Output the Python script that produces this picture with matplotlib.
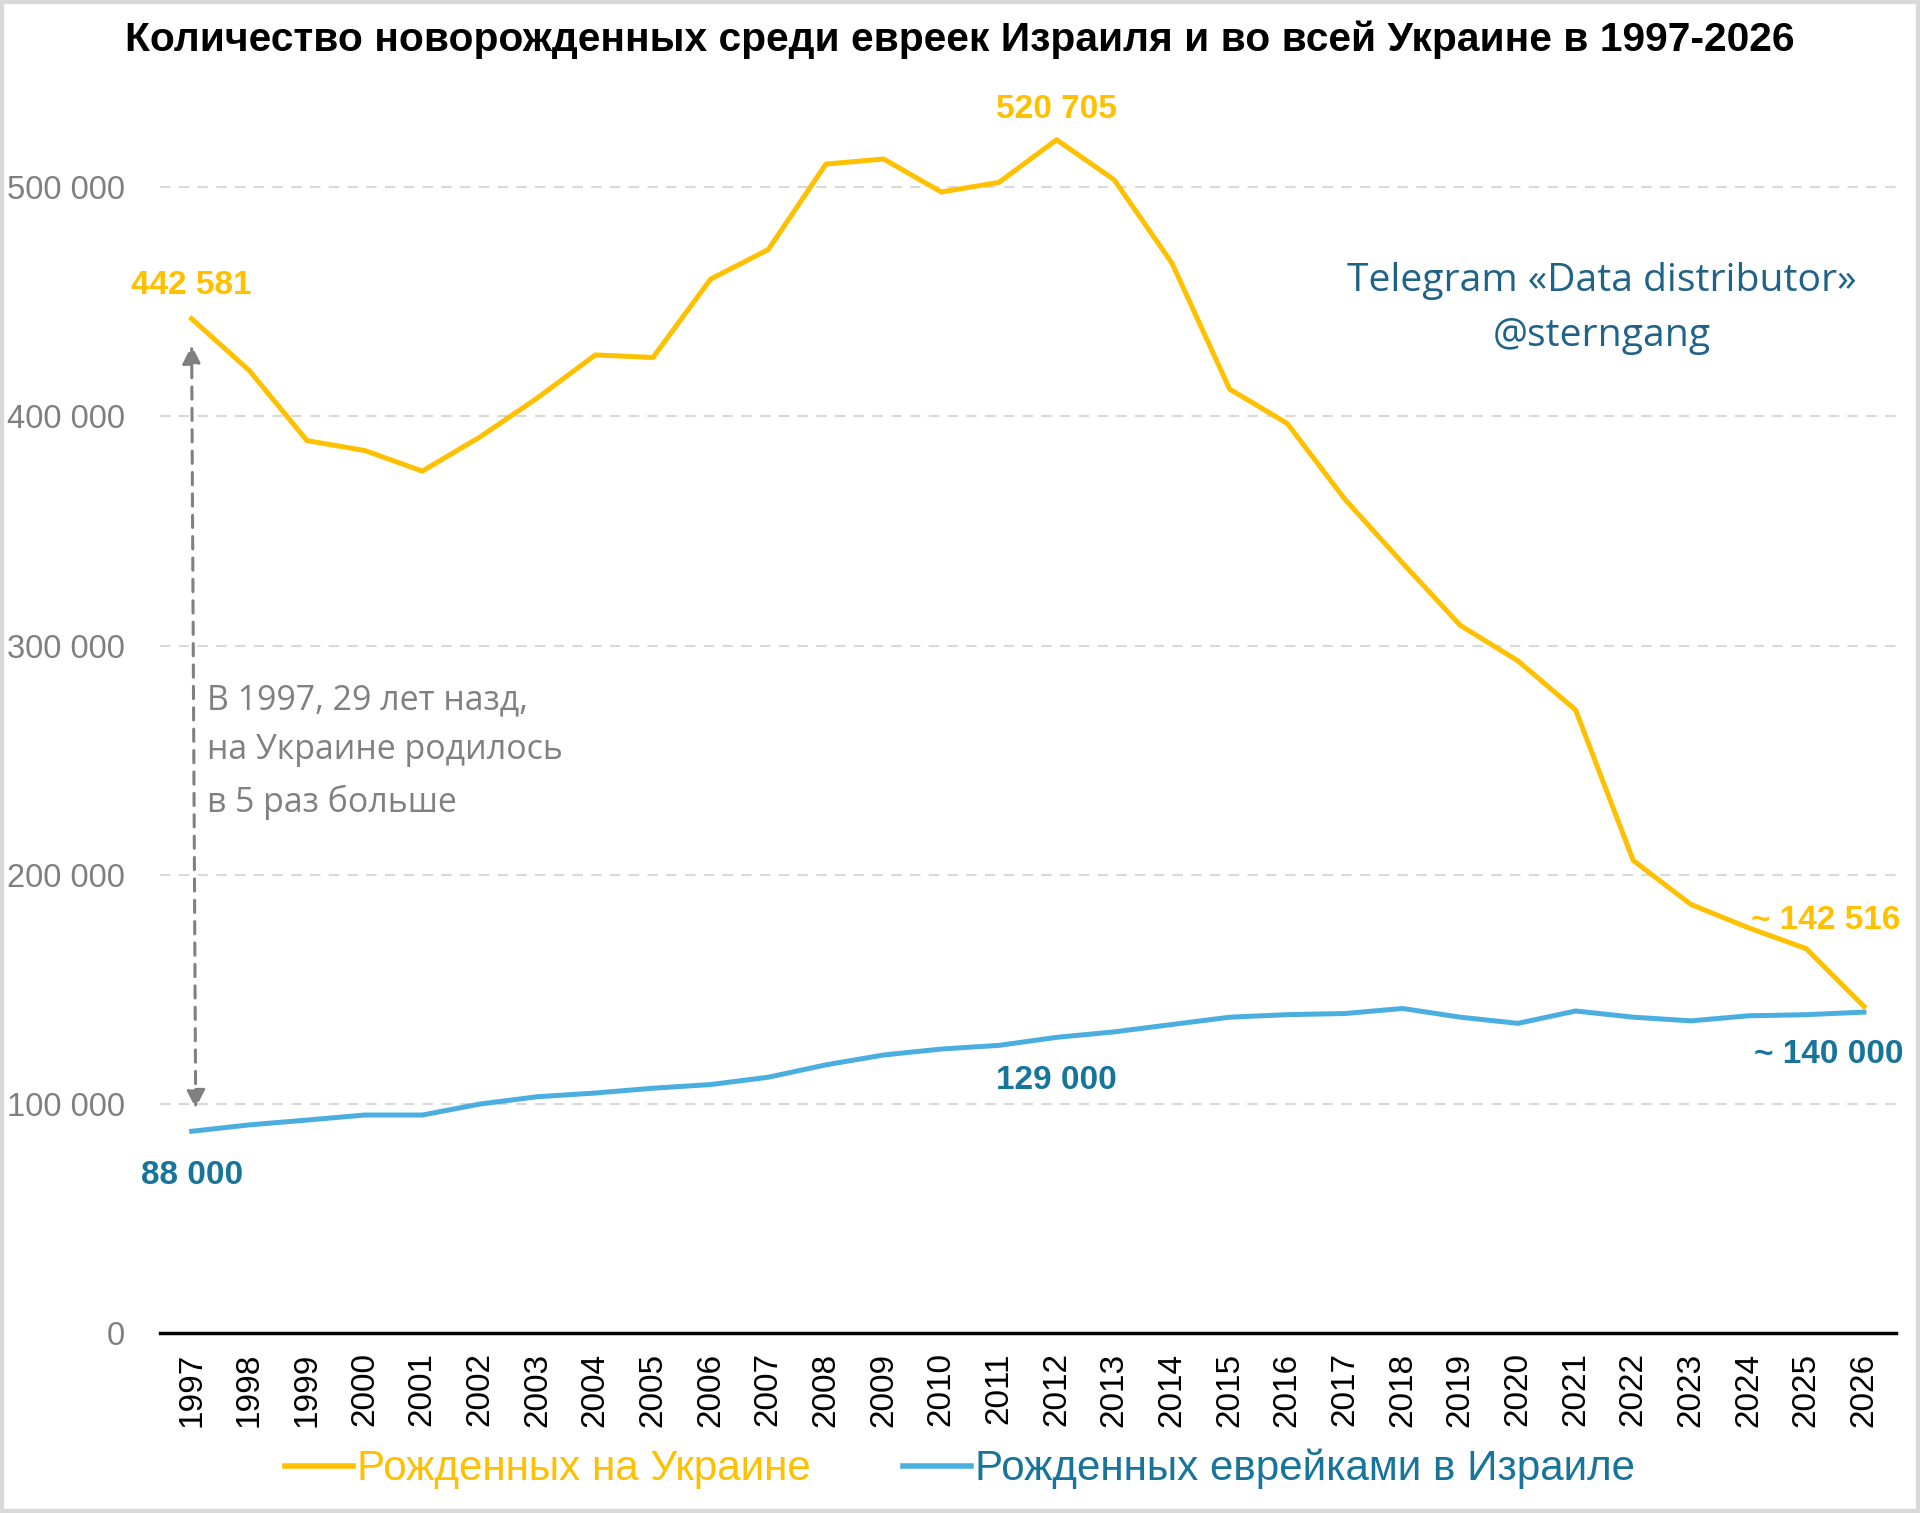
import matplotlib.pyplot as plt
from matplotlib.patches import Rectangle
from matplotlib.lines import Line2D

plt.rcParams['font.family'] = ['Liberation Sans', 'DejaVu Sans']

years = list(range(1997, 2027))
ukraine = [442581, 420000, 389400, 385100, 376100, 391000, 408100, 426800, 425700, 459900,
           472800, 510100, 512300, 497900, 502100, 520705, 503200, 466900, 411900, 396900,
           363800, 336000, 308800, 293300, 271900, 206200, 187000, 176800, 167700, 142516]
israel = [88000, 90800, 92900, 95100, 95100, 99900, 103100, 104700, 106800, 108400,
          111600, 117000, 121300, 123900, 125500, 129000, 131400, 134600, 137800, 138900,
          139400, 141600, 137800, 135100, 140500, 137800, 136200, 138400, 138900, 140000]
yticks = [0, 100000, 200000, 300000, 400000, 500000]

title = 'Количество новорожденных среди евреек Израиля и во всей Украине в 1997-2026'
label_ua = 'Рожденных на Украине'
label_il = 'Рожденных еврейками в Израиле'
note = 'В 1997, 29 лет назд,\nна Украине родилось\nв 5 раз больше'
watermark = 'Telegram «Data distributor»\n@sterngang'

YELLOW = '#FFC000'
BLUE = '#4AAFDF'
DARK_BLUE = '#17749A'
GREY = '#808080'


def fmt(v):
    return f'{v:,}'.replace(',', ' ')


fig = plt.figure(figsize=(19.2, 15.13), dpi=100)
fig.patches.append(Rectangle((0, 0), 1, 1, transform=fig.transFigure, fill=False,
                             edgecolor='#D9D9D9', linewidth=6))
ax = fig.add_axes([0.0833, 0.119, 0.904, 0.833])

ax.plot(years, ukraine, color=YELLOW, linewidth=3.6, zorder=3)
ax.plot(years, israel, color=BLUE, linewidth=3.6, zorder=3)

ax.set_xlim(1996.45, 2026.55)
ax.set_ylim(0, 550000)
ax.set_xticks(years)
ax.set_xticklabels([str(y) for y in years], rotation=90, fontsize=24)
ax.set_yticks(yticks)
ax.set_yticklabels([fmt(v) for v in yticks], fontsize=23.5, color='#7F7F7F')
ax.tick_params(axis='both', length=0)
ax.tick_params(axis='y', pad=25)
ax.tick_params(axis='x', pad=14)
for s in ['top', 'right', 'left']:
    ax.spines[s].set_visible(False)
ax.spines['bottom'].set_linewidth(2.5)
ax.spines['bottom'].set_color('black')
for v in yticks[1:]:
    ax.axhline(v, color='#D9D9D9', linewidth=1.5, dashes=(5, 4), zorder=1)

# data labels
bold = dict(fontsize=24, fontweight='bold', clip_on=False, va='center')
ax.text(years[0], 457300, fmt(ukraine[0]), color=YELLOW, ha='center', **bold)
i_max = ukraine.index(max(ukraine))
ax.text(years[i_max], 533700, fmt(ukraine[i_max]), color=YELLOW, ha='center', **bold)
ax.text(2026.64, 180000, '~ ' + fmt(ukraine[-1]), color=YELLOW, ha='right', **bold)
ax.text(years[0], 68900, fmt(israel[0]), color=DARK_BLUE, ha='center', **bold)
ax.text(years[15], 110000, fmt(israel[15]), color=DARK_BLUE, ha='center', **bold)
ax.text(2026.68, 121300, '~ ' + fmt(israel[-1]), color=DARK_BLUE, ha='right', **bold)

# arrow + note
ax.annotate('', xy=(1997.0, 431000), xytext=(1997.07, 98000),
            arrowprops=dict(arrowstyle='<|-|>', color=GREY, linewidth=2.2, linestyle=(0, (4, 3)),
                            mutation_scale=28, shrinkA=0, shrinkB=0))
ax.text(1997.27, 253800, note, color=GREY, fontsize=24.4, va='center', ha='left', linespacing=1.62,
        family=['Open Sans', 'DejaVu Sans'])

ax.text(2021.46, 447000, watermark, color='#1F6388', fontsize=28.2, ha='center', va='center',
        linespacing=1.6, family=['Open Sans', 'DejaVu Sans'])

fig.text(0.5, 0.9735, title, fontsize=29.3, fontweight='bold', ha='center', va='center')

handles = [Line2D([], [], color=YELLOW, linewidth=4), Line2D([], [], color=BLUE, linewidth=4)]
leg = fig.legend(handles, [label_ua, label_il], loc='center', bbox_to_anchor=(0.5, 0.029),
                 ncol=2, frameon=False, fontsize=30.3, handlelength=1.6, handletextpad=0.1,
                 columnspacing=2.2)
for t, c in zip(leg.get_texts(), [YELLOW, DARK_BLUE]):
    t.set_color(c)

fig.savefig('out.png', dpi=100, facecolor='white')
